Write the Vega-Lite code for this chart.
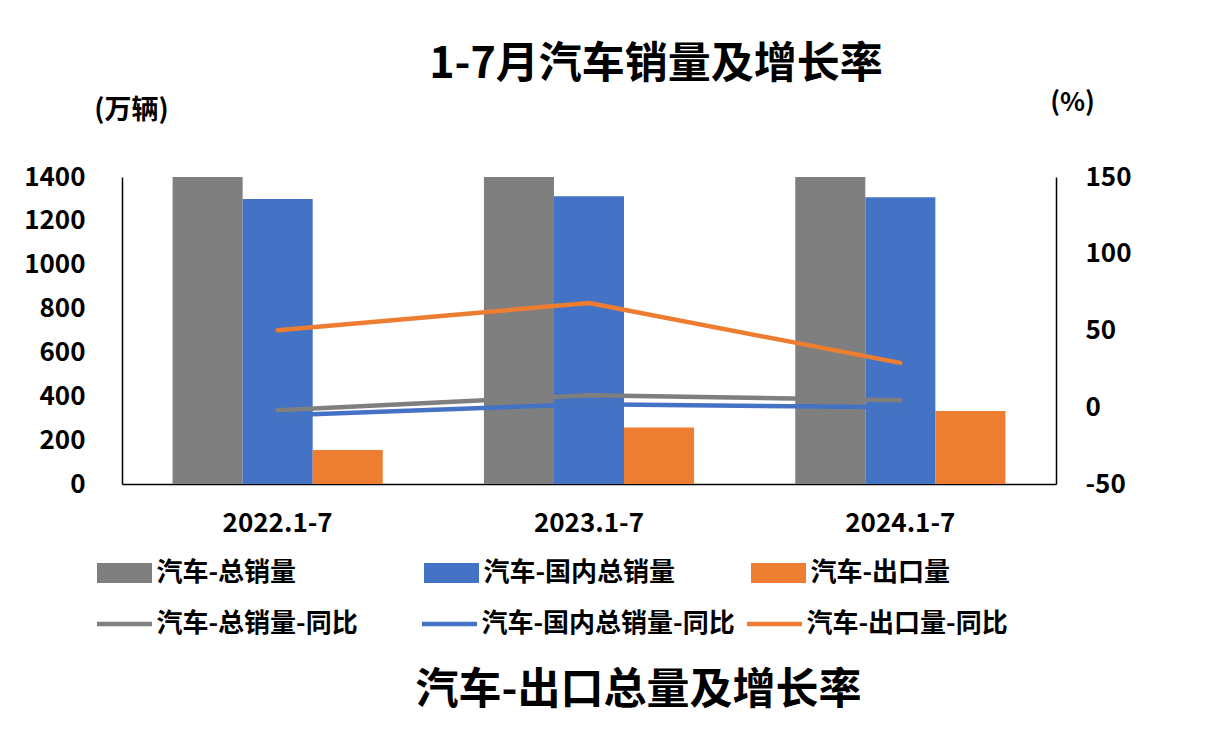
{
  "$schema": "https://vega.github.io/schema/vega-lite/v6.json",
  "width": 934,
  "height": 307,
  "autosize": "none",
  "padding": {"left": 122, "top": 177, "right": 153, "bottom": 247},
  "background": "white",
  "config": {
    "font": "Noto Sans CJK SC",
    "view": {"stroke": null},
    "axis": {"grid": false, "ticks": false, "domainColor": "#000000", "domainWidth": 1.5, "labelFont": "Noto Sans CJK SC", "labelFontSize": 26, "labelFontWeight": "bold", "labelColor": "#000000", "titleFont": "Noto Sans CJK SC", "titleColor": "#000000", "titleFontWeight": "bold"},
    "legend": {"orient": "none", "direction": "horizontal", "columns": 3, "gridAlign": "all", "title": null, "padding": 0, "labelFont": "Noto Sans CJK SC", "labelFontSize": 26, "labelFontWeight": "bold", "labelColor": "#000000", "labelLimit": 500, "symbolSize": 400, "labelOffset": 19}
  },
  "title": {"text": "1-7月汽车销量及增长率", "font": "Noto Sans CJK SC", "fontSize": 43, "fontWeight": "bold", "color": "#000000", "anchor": "middle", "frame": "group", "dx": 67, "offset": 2},
  "datasets": {
    "bars": [
      {"period": "2022.1-7", "series": "汽车-总销量", "value": 1447.7},
      {"period": "2022.1-7", "series": "汽车-国内总销量", "value": 1300},
      {"period": "2022.1-7", "series": "汽车-出口量", "value": 155},
      {"period": "2023.1-7", "series": "汽车-总销量", "value": 1552.6},
      {"period": "2023.1-7", "series": "汽车-国内总销量", "value": 1312},
      {"period": "2023.1-7", "series": "汽车-出口量", "value": 258},
      {"period": "2024.1-7", "series": "汽车-总销量", "value": 1587.9},
      {"period": "2024.1-7", "series": "汽车-国内总销量", "value": 1308},
      {"period": "2024.1-7", "series": "汽车-出口量", "value": 333}
    ],
    "lines": [
      {"period": "2022.1-7", "series": "汽车-总销量-同比", "yoy": -2},
      {"period": "2023.1-7", "series": "汽车-总销量-同比", "yoy": 7.8},
      {"period": "2024.1-7", "series": "汽车-总销量-同比", "yoy": 4.5},
      {"period": "2022.1-7", "series": "汽车-国内总销量-同比", "yoy": -5.3},
      {"period": "2023.1-7", "series": "汽车-国内总销量-同比", "yoy": 2},
      {"period": "2024.1-7", "series": "汽车-国内总销量-同比", "yoy": 0},
      {"period": "2022.1-7", "series": "汽车-出口量-同比", "yoy": 50.2},
      {"period": "2023.1-7", "series": "汽车-出口量-同比", "yoy": 67.9},
      {"period": "2024.1-7", "series": "汽车-出口量-同比", "yoy": 28.9}
    ]
  },
  "layer": [
    {
      "data": {"name": "bars"},
      "mark": {"type": "bar", "clip": true},
      "encoding": {
        "x": {"field": "period", "type": "nominal", "scale": {"paddingInner": 0.325, "paddingOuter": 0.1625},
          "axis": {"title": "汽车-出口总量及增长率", "titleFontSize": 43, "titleX": 516, "titleY": 206, "titleAlign": "center", "titleBaseline": "middle", "labelAngle": 0, "labelPadding": 26}},
        "xOffset": {"field": "series", "type": "nominal", "sort": ["汽车-总销量", "汽车-国内总销量", "汽车-出口量"], "scale": {"paddingInner": 0, "paddingOuter": 0}},
        "y": {"field": "value", "type": "quantitative", "scale": {"domain": [0, 1400], "nice": false},
          "axis": {"values": [0, 200, 400, 600, 800, 1000, 1200, 1400], "labelExpr": "'' + datum.value", "title": "(万辆)", "titleFontSize": 27, "titleAngle": 0, "titleX": 9, "titleY": -67, "titleAlign": "center", "titleBaseline": "middle", "labelPadding": 37}},
        "color": {"field": "series", "type": "nominal",
          "scale": {"domain": ["汽车-总销量", "汽车-国内总销量", "汽车-出口量"], "range": ["#7f7f7f", "#4472c4", "#ed7d31"]},
          "legend": {"legendX": -10.5, "legendY": 383, "symbolType": "M-2.75,-1H2.75V1H-2.75Z", "columnPadding": 75, "symbolStrokeWidth": 0, "symbolOpacity": 1}
        }
      }
    },
    {
      "data": {"name": "lines"},
      "mark": {"type": "line", "strokeWidth": 4.5, "strokeCap": "round", "strokeJoin": "round"},
      "encoding": {
        "x": {"field": "period", "type": "nominal"},
        "y": {"field": "yoy", "type": "quantitative", "scale": {"domain": [-50, 150], "nice": false},
          "axis": {"orient": "right", "values": [-50, 0, 50, 100, 150], "labelExpr": "'' + datum.value", "title": "(%)", "titleFontSize": 26, "titleAngle": 0, "titleX": 16, "titleY": -75, "titleAlign": "center", "titleBaseline": "middle", "labelPadding": 29}},
        "stroke": {"field": "series", "type": "nominal",
          "scale": {"domain": ["汽车-总销量-同比", "汽车-国内总销量-同比", "汽车-出口量-同比"], "range": ["#7f7f7f", "#4472c4", "#ed7d31"]},
          "legend": {"legendX": -10.5, "legendY": 434, "symbolType": "M-2.75,0H2.75", "columnPadding": 2, "symbolStrokeWidth": 4.5, "symbolOpacity": 1}
        }
      }
    }
  ],
  "resolve": {"scale": {"y": "independent"}}
}
